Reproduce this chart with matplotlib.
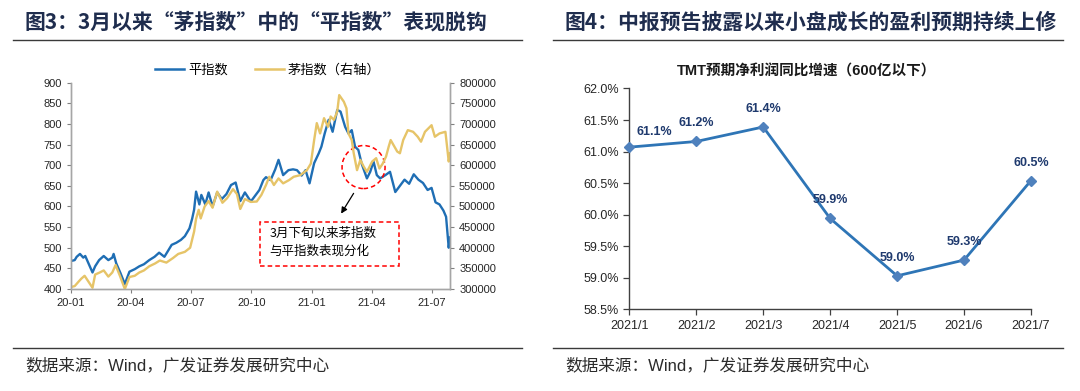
import matplotlib
matplotlib.use("Agg")
import matplotlib.pyplot as plt
import matplotlib.dates as mdates
from matplotlib.lines import Line2D
from matplotlib.patches import Ellipse, Rectangle
import pandas as pd

plt.rcParams['font.family'] = ['Liberation Sans', 'Noto Sans CJK SC', 'DejaVu Sans']
CJK = ['Noto Sans CJK SC', 'DejaVu Sans']

# ---- figure 3 data: 平指数 (left axis) ----
ping_dates = ['2020-01-02', '2020-01-07', '2020-01-10', '2020-01-15', '2020-01-20', '2020-01-23',
              '2020-02-03', '2020-02-07', '2020-02-13', '2020-02-20', '2020-02-27', '2020-03-04',
              '2020-03-06', '2020-03-10', '2020-03-16', '2020-03-23', '2020-03-30', '2020-04-07',
              '2020-04-14', '2020-04-21', '2020-04-29', '2020-05-07', '2020-05-14', '2020-05-22',
              '2020-06-02', '2020-06-09', '2020-06-16', '2020-06-22', '2020-06-29', '2020-07-03',
              '2020-07-06', '2020-07-09', '2020-07-14', '2020-07-17', '2020-07-23', '2020-07-28',
              '2020-08-03', '2020-08-10', '2020-08-17', '2020-08-24', '2020-08-31', '2020-09-07',
              '2020-09-14', '2020-09-21', '2020-09-30', '2020-10-13', '2020-10-19', '2020-10-23',
              '2020-10-30', '2020-11-06', '2020-11-11', '2020-11-18', '2020-11-26', '2020-12-03',
              '2020-12-09', '2020-12-16', '2020-12-22', '2020-12-28', '2021-01-04', '2021-01-11',
              '2021-01-15', '2021-01-20', '2021-01-26', '2021-02-01', '2021-02-08', '2021-02-13',
              '2021-02-20', '2021-02-25', '2021-03-02', '2021-03-07', '2021-03-12', '2021-03-17',
              '2021-03-25', '2021-03-30', '2021-04-04', '2021-04-09', '2021-04-14', '2021-04-22',
              '2021-04-29', '2021-05-07', '2021-05-14', '2021-05-21', '2021-05-28', '2021-06-04',
              '2021-06-11', '2021-06-18', '2021-06-25', '2021-07-01', '2021-07-07', '2021-07-13',
              '2021-07-19', '2021-07-23', '2021-07-27', '2021-07-29']
ping_vals = [468, 470, 478, 485, 476, 480,
             440, 455, 470, 480, 470, 476,
             485, 462, 440, 412, 442, 448,
             455, 460, 470, 478, 488, 478,
             507, 512, 519, 528, 547, 570,
             592, 636, 605, 628, 605, 634,
             600, 634, 618, 630, 652, 658,
             613, 634, 612, 640, 664, 671,
             664, 690, 713, 676, 688, 690,
             688, 675, 688, 656, 705, 729,
             745, 777, 810, 781, 834, 830,
             793, 777, 785, 745, 737, 704,
             668, 684, 709, 676, 668, 676,
             684, 635, 650, 665, 655, 678,
             665, 657, 640, 645, 610, 605,
             590, 575, 500, 525]

# ---- 茅指数 (right axis) ----
mao_dates = ['2020-01-02', '2020-01-07', '2020-01-13', '2020-01-17', '2020-01-22', '2020-02-03',
             '2020-02-07', '2020-02-14', '2020-02-20', '2020-02-27', '2020-03-04', '2020-03-09',
             '2020-03-16', '2020-03-23', '2020-03-30', '2020-04-07', '2020-04-14', '2020-04-21',
             '2020-04-29', '2020-05-08', '2020-05-15', '2020-05-25', '2020-06-04', '2020-06-12',
             '2020-06-22', '2020-06-30', '2020-07-06', '2020-07-09', '2020-07-13', '2020-07-16',
             '2020-07-22', '2020-07-28', '2020-08-03', '2020-08-10', '2020-08-18', '2020-08-25',
             '2020-09-03', '2020-09-09', '2020-09-14', '2020-09-21', '2020-09-30', '2020-10-09',
             '2020-10-16', '2020-10-23', '2020-10-28', '2020-11-04', '2020-11-11', '2020-11-18',
             '2020-11-27', '2020-12-04', '2020-12-14', '2020-12-24', '2020-12-30', '2021-01-04',
             '2021-01-08', '2021-01-13', '2021-01-19', '2021-01-25', '2021-01-29', '2021-02-03',
             '2021-02-08', '2021-02-11', '2021-02-18', '2021-02-22', '2021-02-25', '2021-03-02',
             '2021-03-05', '2021-03-10', '2021-03-15', '2021-03-20', '2021-03-25', '2021-04-02',
             '2021-04-08', '2021-04-13', '2021-04-18', '2021-04-23', '2021-04-27', '2021-04-30',
             '2021-05-10', '2021-05-14', '2021-05-19', '2021-05-26', '2021-06-03', '2021-06-10',
             '2021-06-15', '2021-06-21', '2021-07-01', '2021-07-06', '2021-07-13', '2021-07-22',
             '2021-07-27', '2021-07-29']
mao_vals = [305000, 307000, 318000, 325000, 332000, 303000,
            335000, 340000, 345000, 330000, 340000, 358000,
            330000, 300000, 329000, 332000, 340000, 345000,
            355000, 362000, 369000, 364000, 375000, 385000,
            390000, 400000, 439000, 470000, 492000, 471000,
            500000, 513000, 497000, 536000, 509000, 520000,
            542000, 530000, 494000, 518000, 511000, 512000,
            528000, 552000, 572000, 552000, 568000, 556000,
            564000, 572000, 576000, 588000, 604000, 661000,
            702000, 677000, 714000, 693000, 718000, 710000,
            730000, 770000, 754000, 738000, 677000, 661000,
            629000, 588000, 613000, 597000, 584000, 609000,
            617000, 592000, 604000, 621000, 645000, 661000,
            633000, 629000, 661000, 685000, 681000, 669000,
            657000, 681000, 697000, 669000, 677000, 681000,
            609000, 629000]

# ---- figure 4 data ----
months = ['2021/1', '2021/2', '2021/3', '2021/4', '2021/5', '2021/6', '2021/7']
tmt_growth = [61.07, 61.16, 61.39, 59.94, 59.03, 59.28, 60.54]
tmt_labels = ['61.1%', '61.2%', '61.4%', '59.9%', '59.0%', '59.3%', '60.5%']

BLUE = '#1f6eb4'
GOLD = '#e6c468'
NAVY = '#1f2d4e'

fig = plt.figure(figsize=(10.8, 3.91), dpi=100)

# titles, rules, sources
fig.text(0.023, 0.944, '图3：3月以来“茅指数”中的“平指数”表现脱钩', family=CJK,
         fontsize=15, fontweight='bold', color=NAVY, va='center')
fig.text(0.523, 0.944, '图4：中报预告披露以来小盘成长的盈利预期持续上修', family=CJK,
         fontsize=15, fontweight='bold', color=NAVY, va='center')
for x0, x1 in [(0.012, 0.483), (0.512, 0.984)]:
    fig.add_artist(Line2D([x0, x1], [0.898, 0.898], color='#3a3a3a', lw=1.0))
    fig.add_artist(Line2D([x0, x1], [0.110, 0.110], color='#3a3a3a', lw=1.0))
for x0 in [0.023, 0.523]:
    fig.text(x0, 0.066, '数据来源：Wind，广发证券发展研究中心', fontsize=12,
             color='#2b2b2b', va='center', family=['Liberation Sans', 'Noto Sans CJK SC'])

# ---- left chart ----
ax = fig.add_axes([0.0655, 0.2609, 0.3512, 0.5276])
d1 = pd.to_datetime(ping_dates)
d2 = pd.to_datetime(mao_dates)
ax.plot(d1, ping_vals, color=BLUE, lw=1.7, label='平指数')
ax.set_ylim(400, 900)
ax.set_yticks(range(400, 901, 50))
ax.set_xlim(pd.Timestamp('2020-01-01'), pd.Timestamp('2021-07-29'))
ax.xaxis.set_major_locator(mdates.MonthLocator(bymonth=[1, 4, 7, 10]))
ax.xaxis.set_major_formatter(mdates.DateFormatter('%y-%m'))

ax2 = ax.twinx()
ax2.plot(d2, mao_vals, color=GOLD, lw=1.7, label='茅指数（右轴）')
ax2.set_ylim(300000, 800000)
ax2.set_yticks(range(300000, 800001, 50000))

for a in (ax, ax2):
    a.spines['top'].set_visible(False)
    for s in ('left', 'right', 'bottom'):
        a.spines[s].set_color('#a6a6a6')
        a.spines[s].set_linewidth(1.0)
    a.tick_params(labelsize=8, colors='#262626', length=3, width=0.8, direction='out')
ax.tick_params(axis='both', color='#808080')
ax2.tick_params(axis='y', color='#808080')

handles = [Line2D([], [], color=BLUE, lw=1.8), Line2D([], [], color=GOLD, lw=1.8)]
fig.legend(handles, ['平指数', '茅指数（右轴）'], loc='center', bbox_to_anchor=(0.248, 0.821),
           ncol=2, frameon=False, handlelength=2.2, handletextpad=0.3,
           columnspacing=2.0, prop={'family': CJK, 'size': 9.5})

# annotation
ax.add_patch(Ellipse((0.772, 0.591), 0.1134, 0.2084, transform=ax.transAxes, fill=False,
                     ec='#ff0000', ls=(0, (3, 2)), lw=1.1, zorder=5))
ax.add_patch(Rectangle((0.499, 0.1115), 0.3666, 0.2133, transform=ax.transAxes, fc='white',
                       ec='#ff0000', ls=(0, (3, 2)), lw=1.1, zorder=5))
ax.annotate('', xy=(0.709, 0.354), xytext=(0.7496, 0.475), xycoords='axes fraction',
            arrowprops=dict(arrowstyle='-|>', color='black', lw=0.9, mutation_scale=9), zorder=6)
ax.text(0.524, 0.27, '3月下旬以来茅指数', transform=ax.transAxes, fontsize=9, family=CJK,
        va='center', zorder=6)
ax.text(0.524, 0.185, '与平指数表现分化', transform=ax.transAxes, fontsize=9, family=CJK,
        va='center', zorder=6)

# ---- right chart ----
bx = fig.add_axes([0.5827, 0.209, 0.3719, 0.5647])
xpos = list(range(len(months)))
bx.plot(xpos, tmt_growth, color='#2e75b6', lw=2.0, marker='D', markersize=5.5,
        markerfacecolor='#4f81bd', markeredgecolor='#4f81bd', clip_on=False, zorder=3)
for i, (v, lab) in enumerate(zip(tmt_growth, tmt_labels)):
    dx = 18 if i == 0 else 0
    dy = 11 if i == 0 else 13
    bx.annotate(lab, (i, v), xytext=(dx, dy), textcoords='offset points', ha='center',
                va='center', fontsize=9, fontweight='bold', color='#1f3a6e')
bx.set_xlim(0, 6)
bx.set_ylim(58.5, 62.0)
bx.set_yticks([58.5, 59.0, 59.5, 60.0, 60.5, 61.0, 61.5, 62.0])
bx.set_yticklabels([f'{t:.1f}%' for t in [58.5, 59.0, 59.5, 60.0, 60.5, 61.0, 61.5, 62.0]])
bx.set_xticks(xpos)
bx.set_xticklabels(months)
bx.spines['top'].set_visible(False)
bx.spines['right'].set_visible(False)
for s in ('left', 'bottom'):
    bx.spines[s].set_color('#404040')
    bx.spines[s].set_linewidth(1.0)
bx.tick_params(labelsize=9, colors='#262626', length=4, width=0.9, direction='out')
bx.tick_params(axis='both', color='#404040')
fig.text(0.747, 0.816, 'TMT预期净利润同比增速（600亿以下）', family=['Liberation Sans', 'Noto Sans CJK SC'],
         fontsize=10.5, fontweight='bold', color='#1a1a1a', ha='center', va='center')

fig.savefig('out.png', dpi=100)
